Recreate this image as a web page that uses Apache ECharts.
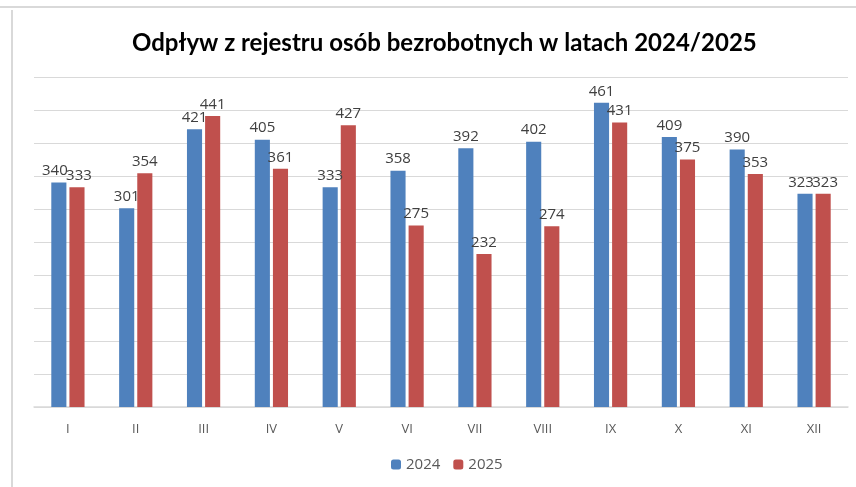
<!DOCTYPE html>
<html>
<head>
<meta charset="utf-8">
<script src="https://cdn.jsdelivr.net/npm/echarts@6/dist/echarts.min.js"></script>
<style>
  html, body { margin: 0; padding: 0; background: #fff; }
  #graphics { width: 856px; height: 487px; }
</style>
</head>
<body>
<div id="graphics"></div>
<script>
// chart data
const months = ["I", "II", "III", "IV", "V", "VI", "VII", "VIII", "IX", "X", "XI", "XII"];
const values2024 = [340, 301, 421, 405, 333, 358, 392, 402, 461, 409, 390, 323];
const values2025 = [333, 354, 441, 361, 427, 275, 232, 274, 431, 375, 353, 323];
const seriesNames = ["2024", "2025"];

var myChart = echarts.init(document.getElementById('graphics'));

var labelStyle = {
    show: true,
    position: 'top',
    distance: 4,
    color: '#404040',
    fontSize: 15,
    fontFamily: 'Open Sans'
};

// push apart labels of neighbouring bars when the values are nearly equal
function withLabelNudge(values, others, dx) {
    return values.map(function (v, i) {
        if (Math.abs(v - others[i]) < 10) {
            return { value: v, label: { offset: [dx, 0] } };
        }
        return v;
    });
}

var option = {
    animation: false,
    backgroundColor: '#fff',
    title: {
        text: 'Odpływ z rejestru osób bezrobotnych w latach 2024/2025',
        left: 127,
        top: 26,
        textStyle: {
            fontFamily: 'Lato',
            fontWeight: 'bold',
            fontSize: 24,
            color: '#000'
        }
    },
    legend: {
        data: seriesNames,
        bottom: 10,
        left: 386,
        itemWidth: 10,
        itemHeight: 10,
        itemGap: 13,
        textStyle: { color: '#595959', fontSize: 15, fontFamily: 'Open Sans' }
    },
    grid: {
        left: 34,
        right: 8,
        top: 77,
        bottom: 80
    },
    xAxis: {
        type: 'category',
        data: months,
        axisLine: { lineStyle: { color: '#d9d9d9', width: 1.5 } },
        axisTick: { show: false },
        axisLabel: { color: '#595959', fontSize: 13, fontFamily: 'Open Sans', margin: 16 }
    },
    yAxis: {
        type: 'value',
        min: 0,
        max: 500,
        interval: 50,
        axisLabel: { show: false },
        axisLine: { show: false },
        axisTick: { show: false },
        splitLine: { lineStyle: { color: '#d9d9d9' } }
    },
    series: [{
        name: seriesNames[0],
        type: 'bar',
        data: withLabelNudge(values2024, values2025, -4),
        barGap: '20%',
        barCategoryGap: '51%',
        itemStyle: { color: '#4f81bd' },
        label: labelStyle
    }, {
        name: seriesNames[1],
        type: 'bar',
        data: withLabelNudge(values2025, values2024, 2),
        itemStyle: { color: '#c0504d' },
        label: labelStyle
    }],
    graphic: [{
        type: 'line',
        shape: { x1: 0, y1: 7, x2: 856, y2: 7 },
        style: { stroke: '#d9d9d9', lineWidth: 2 }
    }, {
        type: 'line',
        shape: { x1: 12, y1: 10, x2: 12, y2: 487 },
        style: { stroke: '#d9d9d9', lineWidth: 2 }
    }]
};

myChart.setOption(option);
</script>
</body>
</html>
